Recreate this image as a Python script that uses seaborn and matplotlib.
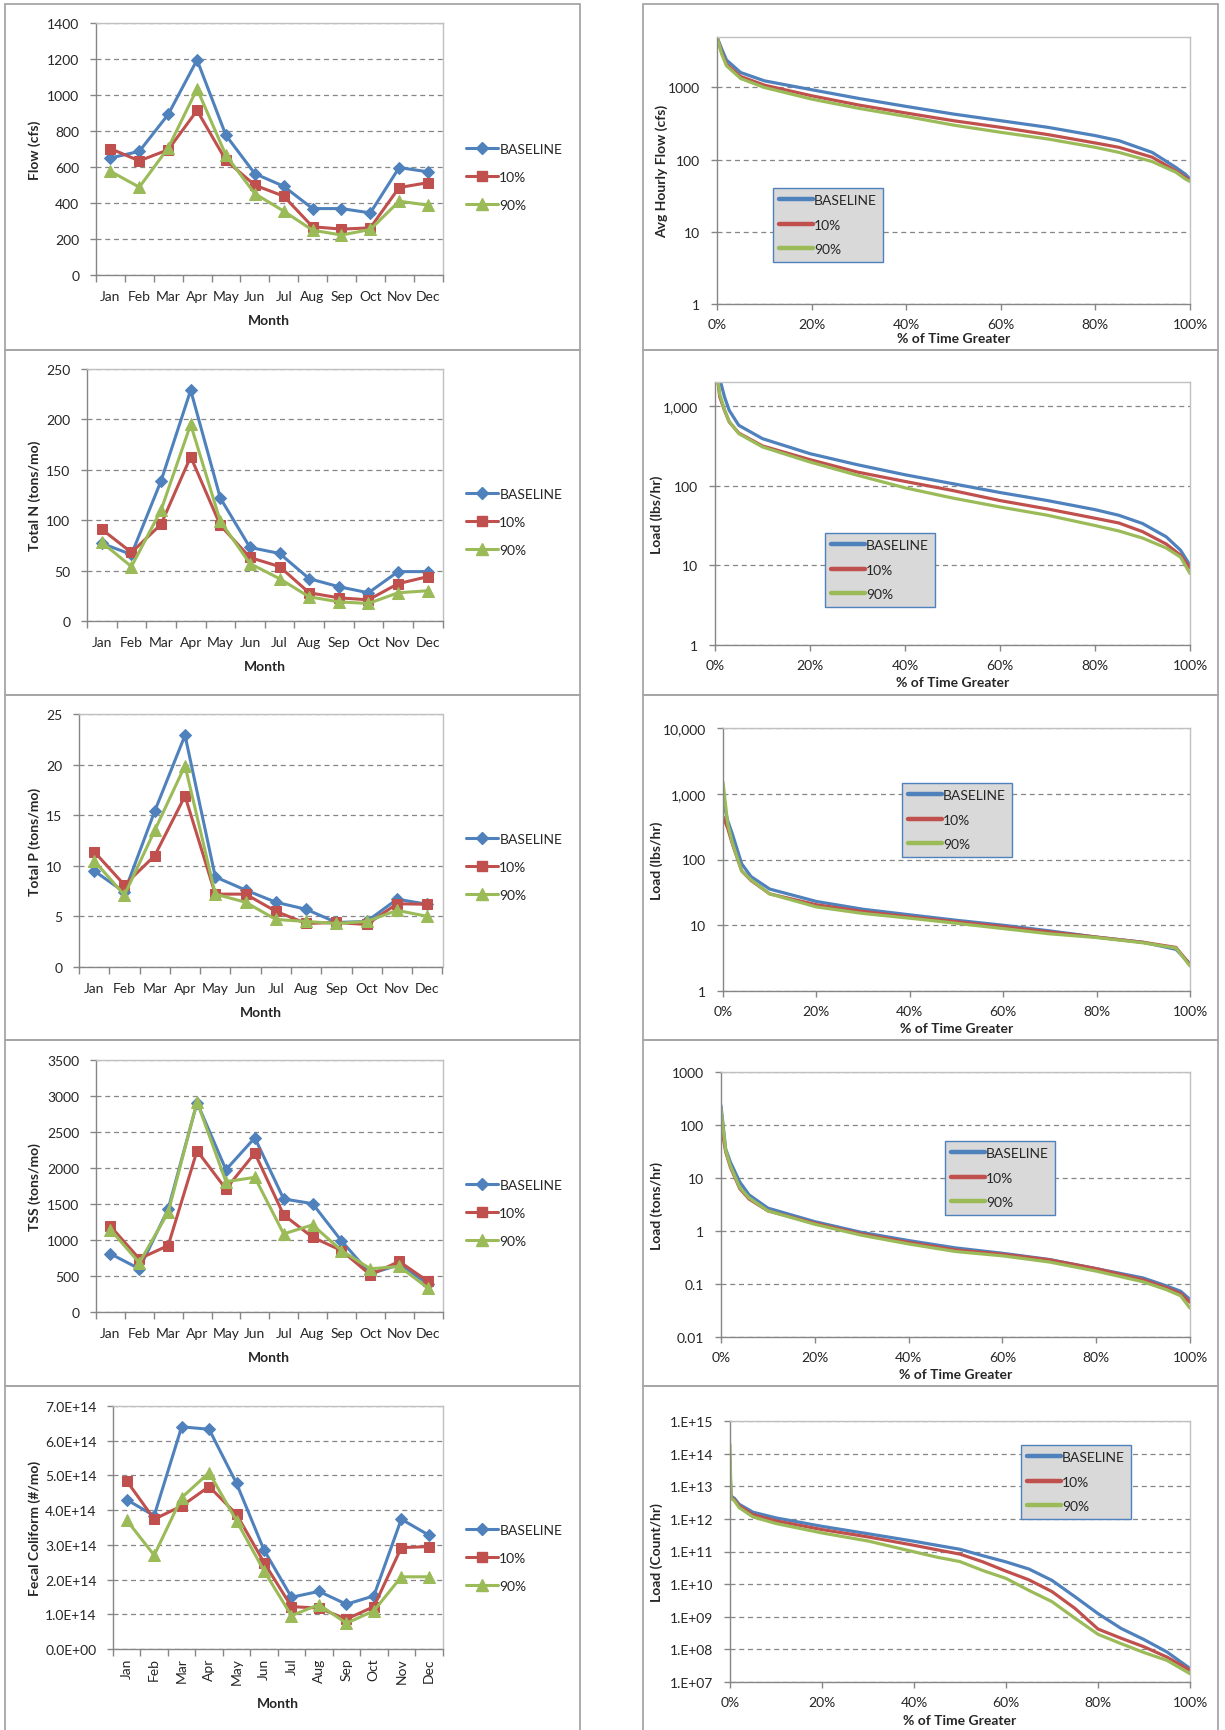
import numpy as np
import pandas as pd
import matplotlib
matplotlib.use('Agg')
import matplotlib.pyplot as plt
import seaborn as sns
from matplotlib.patches import Rectangle
from matplotlib.lines import Line2D
from matplotlib.ticker import NullLocator, FixedLocator

sns.set_style('white')
plt.rcParams['font.family'] = ['Lato', 'DejaVu Sans']

# ---- data ----
months = ['Jan', 'Feb', 'Mar', 'Apr', 'May', 'Jun', 'Jul', 'Aug', 'Sep', 'Oct', 'Nov', 'Dec']
series_names = ['BASELINE', '10%', '90%']
series_colors = ['#4F81BD', '#C0504D', '#9BBB59']
series_markers = ['D', 's', '^']
marker_sizes = [6, 7, 8]

# monthly flow (cfs)
flow_base = [650, 687, 892, 1195, 776, 563, 493, 369, 369, 345, 597, 573]
flow_10 = [702, 634, 696, 914, 637, 499, 438, 268, 255, 262, 486, 513]
flow_90 = [576, 488, 706, 1034, 665, 452, 355, 249, 222, 253, 410, 388]

# monthly total N (tons/mo)
tn_base = [77, 66, 139, 229, 122, 73, 67, 42, 34, 28, 49, 49]
tn_10 = [91, 68, 96, 163, 95, 63, 54, 28, 23, 21, 37, 44]
tn_90 = [78, 54, 110, 195, 99, 57, 42, 24, 19, 17.4, 28, 30]

# monthly total P (tons/mo)
tp_base = [9.5, 7.4, 15.4, 22.9, 8.9, 7.6, 6.4, 5.7, 4.4, 4.5, 6.7, 6.2]
tp_10 = [11.4, 8.1, 11.0, 16.9, 7.2, 7.2, 5.5, 4.3, 4.4, 4.2, 6.25, 6.2]
tp_90 = [10.5, 7.1, 13.5, 19.9, 7.2, 6.4, 4.7, 4.5, 4.3, 4.5, 5.6, 5.0]

# monthly TSS (tons/mo)
tss_base = [808, 600, 1431, 2909, 1976, 2419, 1570, 1505, 988, 531, 656, 392]
tss_10 = [1191, 739, 923, 2240, 1708, 2207, 1348, 1039, 854, 517, 702, 425]
tss_90 = [1145, 683, 1385, 2918, 1810, 1870, 1085, 1210, 854, 600, 633, 332]

# monthly fecal coliform (#/mo)
fc_base = [4.30e14, 3.84e14, 6.40e14, 6.33e14, 4.77e14, 2.85e14, 1.49e14, 1.66e14, 1.29e14, 1.53e14, 3.74e14, 3.28e14]
fc_10 = [4.84e14, 3.74e14, 4.12e14, 4.68e14, 3.88e14, 2.49e14, 1.22e14, 1.18e14, 0.86e14, 1.22e14, 2.92e14, 2.95e14]
fc_90 = [3.71e14, 2.70e14, 4.36e14, 5.08e14, 3.69e14, 2.25e14, 0.96e14, 1.28e14, 0.74e14, 1.10e14, 2.08e14, 2.08e14]

# flow duration (cfs)
fdc_pct = [0, 1, 2, 5, 10, 20, 30, 40, 50, 60, 70, 80, 85, 92, 97, 99, 100]
fdc_base = [5000, 3400, 2400, 1610, 1236, 930, 704, 546, 428, 346, 280, 215, 183, 126, 78, 63, 54]
fdc_10 = [5000, 3000, 2100, 1420, 1077, 767, 570, 442, 346, 280, 222, 170, 148, 108, 70, 57, 51]
fdc_90 = [5000, 2900, 2000, 1330, 1000, 690, 513, 397, 301, 239, 193, 148, 126, 94, 67, 54, 50]

# total N load duration (lbs/hr)
tnd_pct = [0, 1, 2, 3, 5, 10, 20, 30, 40, 50, 60, 70, 80, 85, 90, 95, 98, 100]
tnd_base = [5000, 2200, 1300, 880, 572, 389, 252, 183, 137, 106, 82, 65, 50, 42.5, 33.5, 22.8, 15.5, 10]
tnd_10 = [4000, 1300, 880, 630, 458, 315, 212, 148, 113, 87, 65, 51, 39, 34, 26.5, 18.5, 13.4, 9.3]
tnd_90 = [4000, 1400, 900, 640, 450, 306, 198, 135, 94, 70, 54, 42.5, 31.6, 27, 22, 16.5, 12.7, 7.9]

# total P load duration (lbs/hr)
tpd_pct = [0, 1, 2, 4, 6, 10, 20, 30, 40, 50, 60, 70, 80, 90, 97, 100]
tpd_base = [800, 390, 245, 86, 55, 35.5, 23, 17.5, 14.4, 11.9, 10, 8.2, 6.6, 5.5, 4.3, 2.6]
tpd_10 = [450, 300, 173, 67, 48, 30, 20.5, 16.2, 13.4, 11.3, 9.5, 7.9, 6.6, 5.5, 4.6, 2.5]
tpd_90 = [1500, 350, 180, 67, 49, 30, 19, 15.1, 12.8, 10.7, 8.9, 7.4, 6.5, 5.4, 4.5, 2.4]

# TSS load duration (tons/hr)
tssd_pct = [0, 1, 2, 4, 6, 10, 20, 30, 40, 50, 60, 70, 80, 90, 95, 98, 100]
tssd_base = [230, 35, 20, 8.4, 4.8, 2.7, 1.5, 0.94, 0.66, 0.48, 0.38, 0.29, 0.195, 0.13, 0.092, 0.073, 0.051]
tssd_10 = [100, 31, 16, 6.3, 4.0, 2.4, 1.4, 0.88, 0.61, 0.44, 0.365, 0.286, 0.195, 0.12, 0.085, 0.066, 0.045]
tssd_90 = [200, 33, 17, 6.6, 4.2, 2.4, 1.34, 0.83, 0.57, 0.41, 0.34, 0.26, 0.175, 0.11, 0.078, 0.06, 0.035]

# fecal coliform load duration (count/hr)
fcd_pct = [0, 0.2, 1, 2, 5, 10, 20, 30, 40, 45, 50, 55, 60, 65, 70, 75, 80, 85, 90, 95, 100]
fcd_base = [6e13, 5.0e12, 4.2e12, 2.8e12, 1.6e12, 1.07e12, 5.9e11, 3.5e11, 2.06e11, 1.55e11, 1.17e11, 7.4e10, 4.8e10, 2.9e10, 1.3e10, 4.1e9, 1.25e9, 4.4e8, 2.0e8, 8.3e7, 2.6e7]
fcd_10 = [4e13, 4.6e12, 3.8e12, 2.5e12, 1.35e12, 8.7e11, 4.7e11, 2.8e11, 1.55e11, 1.13e11, 8.3e10, 4.8e10, 2.5e10, 1.35e10, 5.9e9, 1.8e9, 4.2e8, 2.2e8, 1.2e8, 5.8e7, 2.3e7]
fcd_90 = [1.9e14, 4.4e12, 3.5e12, 2.2e12, 1.15e12, 7.2e11, 3.7e11, 2.1e11, 9.8e10, 6.7e10, 4.9e10, 2.6e10, 1.5e10, 6.4e9, 2.9e9, 9e8, 2.9e8, 1.5e8, 8e7, 4.6e7, 1.8e7]

pct_ticks = [0, 0.2, 0.4, 0.6, 0.8, 1.0]
pct_labels = ['0%', '20%', '40%', '60%', '80%', '100%']

# ---- figure ----
W, H = 1225, 1731
fig = plt.figure(figsize=(W / 100, H / 100), dpi=100)
fig.patch.set_facecolor('white')

GRID = '#868686'
FS = 10


def add_ax(x0, y0, x1, y1):
    return fig.add_axes([x0 / W, 1 - y1 / H, (x1 - x0) / W, (y1 - y0) / H])


def style_axes(ax, box, ylabel, xlabel, xlab_gap, ylab_x):
    x0, y0, x1, y1 = box
    for side in ['left', 'bottom']:
        ax.spines[side].set_color('#868686')
        ax.spines[side].set_linewidth(1)
    for side in ['top', 'right']:
        ax.spines[side].set_color('#c0c0c0')
        ax.spines[side].set_linewidth(1)
    ax.grid(axis='y', color=GRID, linestyle=(0, (4, 3)), linewidth=0.9)
    ax.grid(axis='x', visible=False)
    ax.set_axisbelow(True)
    ax.set_ylabel(ylabel, fontsize=FS, fontweight='bold')
    ax.set_xlabel(xlabel, fontsize=FS, fontweight='bold')
    ax.yaxis.label.set_va('center')
    ax.xaxis.label.set_va('center')
    ax.yaxis.set_label_coords(-(x0 - ylab_x) / (x1 - x0), 0.5)
    ax.xaxis.set_label_coords(0.5, -xlab_gap / (y1 - y0))
    ax.tick_params(axis='y', which='major', length=4, width=1, color='#868686',
                   direction='out', pad=8, labelsize=FS, left=True)


def monthly_panel(box, curves, yticks, yticklabels, ylabel, legend_y, xlab_gap=45, rotate=False):
    ax = add_ax(*box)
    xs = np.arange(len(months))
    for name, vals, color, mk, ms in zip(series_names, curves, series_colors, series_markers, marker_sizes):
        df = pd.DataFrame({'month': xs, 'value': vals})
        sns.lineplot(data=df, x='month', y='value', ax=ax, color=color, marker=mk,
                     markersize=ms, markeredgecolor=color, linewidth=2.2, legend=False)
    ax.set_xlim(-0.5, len(months) - 0.5)
    ax.set_ylim(yticks[0], yticks[-1])
    ax.set_yticks(yticks)
    ax.set_yticklabels(yticklabels)
    ax.set_xticks(xs)
    ax.set_xticklabels(months, rotation=90 if rotate else 0)
    ax.xaxis.set_minor_locator(FixedLocator(np.arange(-0.5, len(months), 1.0)))
    style_axes(ax, box, ylabel, 'Month', xlab_gap, 35)
    ax.tick_params(axis='x', which='major', length=0, pad=6 if rotate else 11, labelsize=FS)
    ax.tick_params(axis='x', which='minor', length=5, width=1, color='#868686',
                   direction='out', bottom=True)
    handles = [Line2D([], [], color=c, marker=m, markersize=ms, markeredgecolor=c, lw=2.2)
               for c, m, ms in zip(series_colors, series_markers, marker_sizes)]
    fig.legend(handles, series_names, loc='center left',
               bbox_to_anchor=(466 / W, 1 - legend_y / H), frameon=False,
               fontsize=FS, handlelength=2.3, handletextpad=0.1,
               labelspacing=1.15, borderpad=0, borderaxespad=0)
    return ax


def duration_panel(box, pct, curves, ylim, yticks, yticklabels, ylabel, leg_xy, xlab_gap=37, ylab_x=657):
    ax = add_ax(*box)
    ax.set_yscale('log')
    xs = np.array(pct) / 100.0
    for name, vals, color in zip(series_names, curves, series_colors):
        df = pd.DataFrame({'pct': xs, 'value': vals})
        sns.lineplot(data=df, x='pct', y='value', ax=ax, color=color, linewidth=2.3, legend=False)
    ax.set_xlim(0, 1)
    ax.set_ylim(*ylim)
    ax.set_yticks(yticks)
    ax.set_yticklabels(yticklabels)
    ax.yaxis.set_minor_locator(NullLocator())
    ax.set_xticks(pct_ticks)
    ax.set_xticklabels(pct_labels)
    style_axes(ax, box, ylabel, '% of Time Greater', xlab_gap, ylab_x)
    ax.tick_params(axis='x', which='major', length=4, width=1, color='#868686',
                   direction='out', pad=6, labelsize=FS, bottom=True)
    handles = [Line2D([], [], color=c, lw=3.2) for c in series_colors]
    leg = fig.legend(handles, series_names, loc='upper left',
                     bbox_to_anchor=(leg_xy[0] / W, 1 - leg_xy[1] / H), frameon=True,
                     fancybox=False, fontsize=FS, handlelength=2.4, handletextpad=0.1,
                     labelspacing=0.9, borderpad=0.45, borderaxespad=0)
    leg.get_frame().set_facecolor('#d9d9d9')
    leg.get_frame().set_edgecolor('#4F81BD')
    leg.get_frame().set_linewidth(1.0)
    leg.get_frame().set_alpha(1)
    return ax


# ---- left column: monthly ----
monthly_panel((96, 24, 442.5, 276), [flow_base, flow_10, flow_90],
              [0, 200, 400, 600, 800, 1000, 1200, 1400],
              ['0', '200', '400', '600', '800', '1000', '1200', '1400'],
              'Flow (cfs)', 178)
monthly_panel((87, 370, 442.5, 622), [tn_base, tn_10, tn_90],
              [0, 50, 100, 150, 200, 250], ['0', '50', '100', '150', '200', '250'],
              'Total N (tons/mo)', 523)
monthly_panel((79, 715, 442.5, 968), [tp_base, tp_10, tp_90],
              [0, 5, 10, 15, 20, 25], ['0', '5', '10', '15', '20', '25'],
              'Total P (tons/mo)', 868)
monthly_panel((96, 1061, 442.5, 1313), [tss_base, tss_10, tss_90],
              [0, 500, 1000, 1500, 2000, 2500, 3000, 3500],
              ['0', '500', '1000', '1500', '2000', '2500', '3000', '3500'],
              'TSS (tons/mo)', 1214)
monthly_panel((113, 1407, 442.5, 1650), [fc_base, fc_10, fc_90],
              [0, 1e14, 2e14, 3e14, 4e14, 5e14, 6e14, 7e14],
              ['0.0E+00', '1.0E+14', '2.0E+14', '3.0E+14', '4.0E+14', '5.0E+14', '6.0E+14', '7.0E+14'],
              'Fecal Coliform (#/mo)', 1559, xlab_gap=54, rotate=True)

# ---- right column: duration curves ----
duration_panel((717, 38, 1190, 305), fdc_pct, [fdc_base, fdc_10, fdc_90], (1, 5000),
               [1, 10, 100, 1000], ['1', '10', '100', '1000'],
               'Avg Hourly Flow (cfs)', (773, 189), xlab_gap=34, ylab_x=662)
duration_panel((715, 383, 1190, 646), tnd_pct, [tnd_base, tnd_10, tnd_90], (1, 2000),
               [1, 10, 100, 1000], ['1', '10', '100', '1,000'],
               'Load (lbs/hr)', (825, 534))
duration_panel((723, 729, 1190, 992), tpd_pct, [tpd_base, tpd_10, tpd_90], (1, 10000),
               [1, 10, 100, 1000, 10000], ['1', '10', '100', '1,000', '10,000'],
               'Load (lbs/hr)', (902, 784))
duration_panel((721, 1073, 1190, 1338), tssd_pct, [tssd_base, tssd_10, tssd_90], (0.01, 1000),
               [0.01, 0.1, 1, 10, 100, 1000], ['0.01', '0.1', '1', '10', '100', '1000'],
               'Load (tons/hr)', (945, 1142))
duration_panel((730, 1422, 1190, 1683), fcd_pct, [fcd_base, fcd_10, fcd_90], (1e7, 1e15),
               [1e7, 1e8, 1e9, 1e10, 1e11, 1e12, 1e13, 1e14, 1e15],
               ['1.E+07', '1.E+08', '1.E+09', '1.E+10', '1.E+11', '1.E+12', '1.E+13', '1.E+14', '1.E+15'],
               'Load (Count/hr)', (1021, 1446), xlab_gap=38)

# ---- panel borders ----
row_edges = [5, 351, 696, 1041, 1387, 1734]
for cx0, cx1 in [(5, 580), (643, 1218)]:
    for ry0, ry1 in zip(row_edges[:-1], row_edges[1:]):
        fig.add_artist(Rectangle((cx0 / W, 1 - ry1 / H), (cx1 - cx0) / W, (ry1 - ry0) / H,
                                 transform=fig.transFigure, fill=False,
                                 edgecolor='#a6a6a6', linewidth=1.3))

fig.savefig('out.png', dpi=100, facecolor='white')
